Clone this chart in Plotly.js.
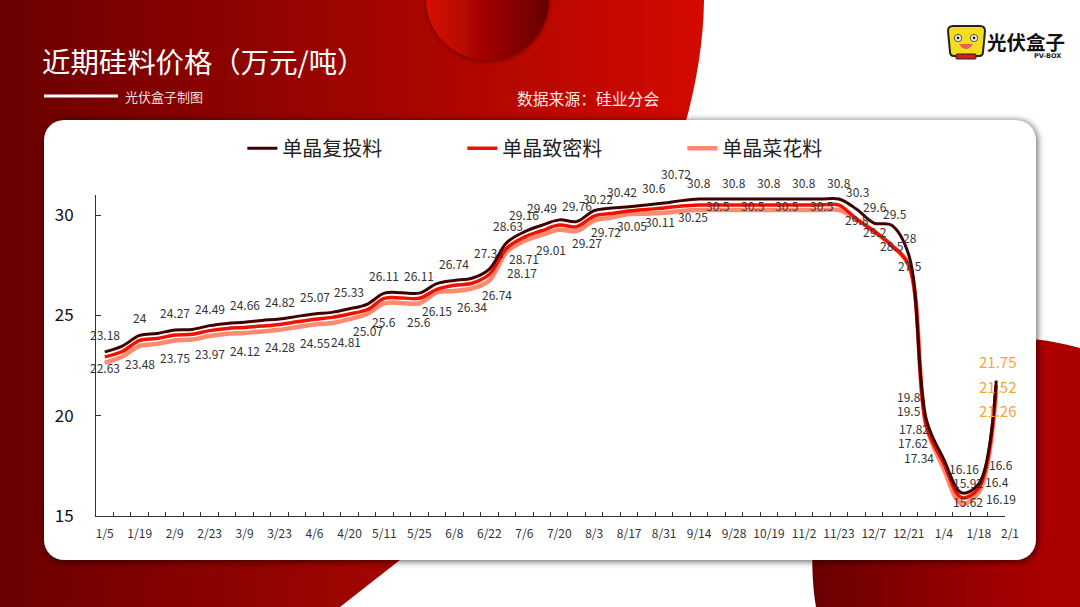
<!DOCTYPE html>
<html>
<head>
<meta charset="utf-8">
<script src="https://cdn.plot.ly/plotly-3.0.1.min.js"></script>
<style>
    html, body { margin: 0; padding: 0; background: #fff; overflow: hidden; }
    #bg { position: absolute; left: 0; top: 0; width: 1080px; height: 607px; }
    #card { position: absolute; left: 44px; top: 120px; width: 992px; height: 440px; background: #fff; border-radius: 20px; box-shadow: 1px 1px 6px 1px rgba(0,0,0,0.55); }
    #myDiv { position: absolute; left: 0; top: 0; width: 1080px; height: 607px; }
</style>
</head>
<body>
<svg id="bg" viewBox="0 0 1080 607" xmlns="http://www.w3.org/2000/svg">
    <defs>
        <linearGradient id="mainRed" gradientUnits="userSpaceOnUse" x1="0" y1="0" x2="700" y2="0">
            <stop offset="0" stop-color="#6a0000"/>
            <stop offset="1" stop-color="#d20a00"/>
        </linearGradient>
        <linearGradient id="circleRed" gradientUnits="userSpaceOnUse" x1="426" y1="0" x2="550" y2="0">
            <stop offset="0" stop-color="#d80a00"/>
            <stop offset="1" stop-color="#640000"/>
        </linearGradient>
        <linearGradient id="cornerRed" gradientUnits="userSpaceOnUse" x1="815" y1="0" x2="1040" y2="0">
            <stop offset="0" stop-color="#6a0000"/>
            <stop offset="1" stop-color="#aa0000"/>
        </linearGradient>
        <filter id="soft" x="-20%" y="-20%" width="140%" height="140%">
            <feDropShadow dx="0" dy="1" stdDeviation="2" flood-color="#300" flood-opacity="0.6"/>
        </filter>
    </defs>
    <path d="M0,0 L704,0 C702,200 540,450 400,560 L340,607 L0,607 Z" fill="url(#mainRed)"/>
    <circle cx="487.5" cy="-1" r="61.5" fill="url(#circleRed)" filter="url(#soft)"/>
    <path d="M816,607 C804,540 810,338 1010,338 C1040,338 1060,343 1080,348 L1080,607 Z" fill="url(#cornerRed)"/>
    <rect x="44" y="94.5" width="74" height="3" fill="#fff"/>
    <g>
        <path d="M948,31 Q948,26 953,26 L980,26 Q985,26 985,31 L983,52 Q983,56 979,56 L954,56 Q950,56 950,52 Z" fill="#f4dc1e" stroke="#222" stroke-width="2"/>
        <circle cx="958" cy="38" r="3.6" fill="#fff" stroke="#222" stroke-width="0.8"/>
        <circle cx="974" cy="38" r="3.6" fill="#fff" stroke="#222" stroke-width="0.8"/>
        <circle cx="958" cy="38" r="1.4" fill="#222"/>
        <circle cx="974" cy="38" r="1.4" fill="#222"/>
        <path d="M959,44 Q966,54 973,44 Z" fill="#e8605a"/>
        <rect x="956" y="54" width="20" height="5" rx="1" fill="#d91c1c" stroke="#222" stroke-width="1"/>
    </g>
</svg>
<div id="card"></div>
<div id="myDiv"></div>
<script>
    var weeks = ["1/5", "1/12", "1/19", "1/26", "2/9", "2/16", "2/23", "3/2", "3/9", "3/16", "3/23", "3/30", "4/6", "4/13", "4/20", "4/27",
        "5/11", "5/18", "5/25", "6/1", "6/8", "6/15", "6/22", "6/29", "7/6", "7/13", "7/20", "7/27", "8/3", "8/10", "8/17", "8/24", "8/31",
        "9/7", "9/14", "9/21", "9/28", "10/12", "10/19", "10/26", "11/2", "11/9", "11/23", "11/30", "12/7", "12/14", "12/21", "12/28",
        "1/4", "1/11", "1/18", "1/25"];

    var fuTou = [23.18, 23.47, 24, 24.1, 24.27, 24.3, 24.49, 24.6, 24.66, 24.75, 24.82, 24.95, 25.07, 25.15, 25.33, 25.55,
        26.11, 26.13, 26.11, 26.58, 26.74, 26.85, 27.31, 28.63, 29.16, 29.49, 29.76, 29.68, 30.22, 30.35, 30.42, 30.5, 30.6,
        30.72, 30.8, 30.8, 30.8, 30.8, 30.8, 30.8, 30.8, 30.8, 30.8, 30.3, 29.6, 29.5, 28, 19.8, 17.82, 16.16, 16.6, 21.75];

    var zhiMi = [22.93, 23.2, 23.75, 23.85, 24.02, 24.06, 24.24, 24.35, 24.4, 24.47, 24.55, 24.68, 24.81, 24.9, 25.07, 25.28,
        25.85, 25.87, 25.85, 26.3, 26.5, 26.6, 27.05, 28.35, 28.9, 29.22, 29.5, 29.42, 29.95, 30.08, 30.2, 30.28, 30.35,
        30.45, 30.5, 30.5, 30.5, 30.5, 30.5, 30.5, 30.5, 30.5, 30.5, 29.8, 29.2, 28.5, 27.5, 19.5, 17.62, 15.92, 16.4, 21.52];

    var caiHua = [22.63, 22.95, 23.48, 23.58, 23.75, 23.8, 23.97, 24.08, 24.12, 24.2, 24.28, 24.42, 24.55, 24.62, 24.81, 25.07,
        25.6, 25.62, 25.6, 26.15, 26.22, 26.34, 26.74, 28.17, 28.71, 29.01, 29.27, 29.2, 29.72, 29.88, 30.05, 30.07, 30.11,
        30.2, 30.25, 30.25, 30.25, 30.25, 30.25, 30.25, 30.25, 30.25, 30.25, 29.8, 29.2, 28.5, 27.5, 19.5, 17.34, 15.62, 16.19, 21.26];

    // which points carry a label, and how far the label was dragged off its point (px, right / up)
    var fuTouLabels = [[0, 0, 17], [2, 0, 18], [4, 0, 18], [6, 0, 17], [8, 0, 18], [10, 0, 17], [12, 0, 17], [14, 0, 17], [16, 0, 18], [18, 0, 18],
        [20, 0, 17], [22, 0, 17], [23, 1, 17], [24, 0, 17], [25, 0, 18], [26, 18, 14], [28, 4, 12], [30, -7, 15], [32, -10, 16], [33, -6, 27],
        [34, 0, 17], [36, 0, 17], [38, 0, 17], [40, 0, 17], [42, 0, 17], [43, 1, 18], [44, 1, 17], [45, 4, 12], [46, 1, 18],
        [47, -17, 23], [48, -30, 31], [49, 3, 24], [50, 22, 19], [51, 1, 19]];
    var zhiMiLabels = [[35, 1, 0], [37, 1, 0], [39, 1, 0], [41, 1, 0], [43, 1, 0], [44, 1, 0], [45, 1, 0], [46, 1, 0],
        [47, -17, 15], [48, -31, 21], [49, 7, 15], [50, 18, 6], [51, 1, -1]];
    var caiHuaLabels = [[0, 0, -5], [2, 0, -18], [4, 0, -17], [6, 0, -17], [8, 0, -17], [10, 0, -17], [12, 0, -18], [14, -3, -22], [15, 1, -17],
        [16, 0, -18], [18, 0, -18], [19, 0, -18], [21, 0, -18], [22, 8, -14], [23, 15, -21], [24, 0, -18], [25, 9, -15], [26, 28, -13],
        [28, 12, -11], [30, 3, -11], [32, -4, -9], [34, -6, -6], [48, -25, 12], [49, 7, 2], [50, 22, -6], [51, 1, -20]];

    var lastPoint = weeks.length - 1;
    var cjk = '"Noto Sans CJK SC", "Noto Sans", sans-serif';

    function labelsFor(series, labels) {
        return labels.map(function(l) {
            var last = l[0] === lastPoint;
            return {
                x: weeks[l[0]], y: series[l[0]], xref: 'x', yref: 'y',
                text: String(series[l[0]]), showarrow: false,
                xanchor: 'center', yanchor: 'middle', xshift: l[1], yshift: l[2],
                font: { family: cjk, size: last ? 15 : 12, color: last ? '#f7a437' : '#333333' }
            };
        });
    }

    // text around the chart sits on the page, not on the axes
    function pageText(text, px, py, anchor, size, color, weight, family) {
        return {
            x: (px - 95.5) / 909.5, y: (516.5 - py) / 322, xref: 'paper', yref: 'paper', text: text, showarrow: false,
            xanchor: anchor, yanchor: 'middle',
            font: { family: family || cjk, size: size, color: color, weight: weight || 400 }
        };
    }

    function line(name, series, color, width) {
        return {
            x: weeks, y: series, name: name, type: 'scatter', mode: 'lines',
            line: { color: color, width: width, shape: 'spline', smoothing: 1 },
            hoverinfo: 'skip'
        };
    }

    var data = [
        line('单晶菜花料', caiHua, '#ff8a70', 4.5),
        line('单晶致密料', zhiMi, '#f01000', 3.5),
        line('单晶复投料', fuTou, '#3f0000', 3)
    ];

    var notes = labelsFor(fuTou, fuTouLabels).concat(labelsFor(zhiMi, zhiMiLabels), labelsFor(caiHua, caiHuaLabels));
    notes.push(pageText('光伏盒子制图', 123, 96, 'left', 13, '#f4dcdc'));
    notes.push(pageText('数据来源：硅业分会', 515, 98, 'left', 15.8, '#ffe9e6'));
    notes.push(pageText('光伏盒子', 985, 41, 'left', 19.5, '#111111', 700));
    notes.push(pageText('PV-BOX', 1032, 55.5, 'left', 6.5, '#222222', 700, 'DejaVu Sans'));
    notes.push(pageText('2/1', 1010, 533, 'center', 12, '#333333'));

    var layout = {
        width: 1080, height: 607,
        margin: { l: 95.5, r: 75, t: 194.5, b: 90.5, pad: 0 },
        paper_bgcolor: 'rgba(0,0,0,0)', plot_bgcolor: 'rgba(0,0,0,0)',
        title: {
            text: '近期硅料价格（万元/吨）', xref: 'container', yref: 'container',
            x: 42 / 1080, y: 1 - 63 / 607, xanchor: 'left', yanchor: 'middle',
            font: { family: cjk, size: 28.4, color: '#ffffff' }
        },
        showlegend: true,
        legend: {
            orientation: 'h', traceorder: 'reversed', x: (242 - 95.5) / 910, y: 1.146, xanchor: 'left', yanchor: 'middle',
            entrywidth: 175, entrywidthmode: 'pixels',
            font: { family: cjk, size: 20, color: '#222222' }, bgcolor: 'rgba(0,0,0,0)'
        },
        xaxis: {
            type: 'category', categoryorder: 'array', categoryarray: weeks, range: [-0.5, lastPoint + 0.5],
            tickson: 'boundaries', ticks: 'inside', ticklen: 4, tickwidth: 1, tickcolor: '#333333',
            ticklabelstep: 2, dtick: 1, tickangle: 0, ticklabelstandoff: 7,
            showgrid: false, zeroline: false, showline: true, linecolor: '#333333', linewidth: 1,
            tickfont: { family: cjk, size: 12, color: '#333333' }
        },
        yaxis: {
            range: [15, 31], tickvals: [15, 20, 25, 30], ticks: 'inside', ticklen: 5, tickwidth: 1, tickcolor: '#333333',
            showgrid: false, zeroline: false, showline: true, linecolor: '#333333', linewidth: 1, ticklabelstandoff: 18,
            tickfont: { family: cjk, size: 17, color: '#111111' }
        },
        annotations: notes
    };

    Plotly.newPlot('myDiv', data, layout, { displayModeBar: false, staticPlot: true });
</script>
</body>
</html>
